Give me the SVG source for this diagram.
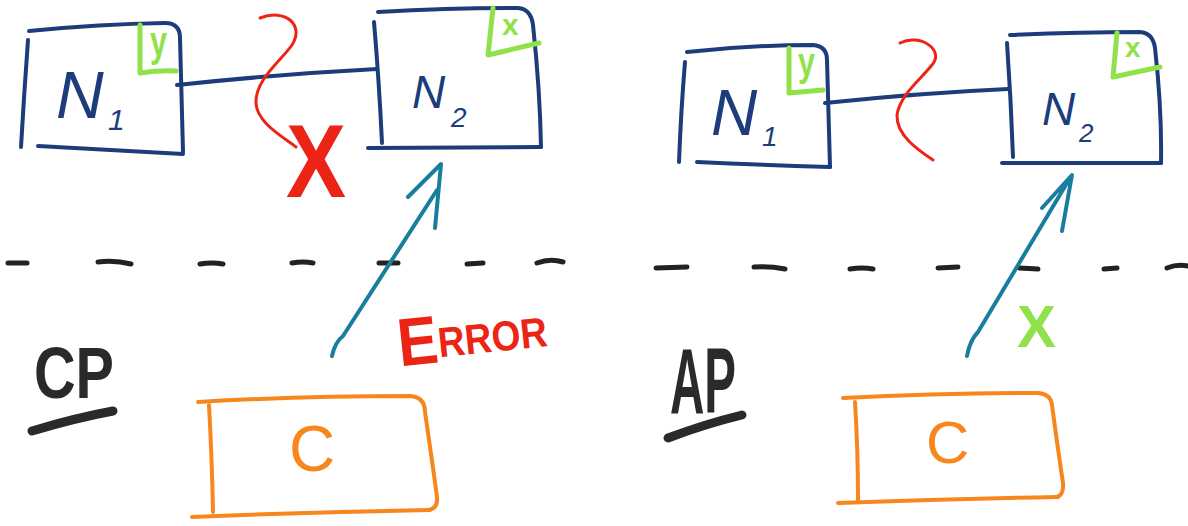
<svg xmlns="http://www.w3.org/2000/svg" width="1188" height="526" viewBox="0 0 1188 526">
<style>
.nv{fill:none;stroke:#1c3c7c;stroke-width:4;stroke-linecap:round;stroke-linejoin:round}
.gr{fill:none;stroke:#8fe24a;stroke-width:5;stroke-linecap:round;stroke-linejoin:round}
.rd{fill:none;stroke:#ec2416;stroke-width:3;stroke-linecap:round}
.or{fill:none;stroke:#f7861c;stroke-width:4;stroke-linecap:round;stroke-linejoin:round}
.tl{fill:none;stroke:#197e9e;stroke-width:4;stroke-linecap:round;stroke-linejoin:round}
.dash{fill:none;stroke:#222;stroke-width:5;stroke-linecap:round}
.ul{fill:none;stroke:#2a2a2a;stroke-width:9;stroke-linecap:round}
.nt{font-family:"Liberation Sans",Arial,sans-serif;font-style:italic;fill:#1c3c7c}
.gt{font-family:"Liberation Sans",Arial,sans-serif;font-weight:bold;fill:#8fe24a}
.ot{font-family:"Liberation Sans",Arial,sans-serif;fill:#f7861c}
.bt{font-family:"Liberation Sans",Arial,sans-serif;font-weight:bold;fill:#2a2a2a}
.rt{font-family:"Liberation Sans",Arial,sans-serif;font-weight:bold;fill:#ec2416}
</style>

<g id="separators">
<path class="dash" d="M8,263 L27,263 M98,262 Q115,260 131,264 M200,264 Q212,262 223,264 M292,263 Q303,261 313,263 M379,263 L398,263 M467,264 L483,263 M537,263 Q550,258 563,262"/>
<path class="dash" d="M656,268 L687,267 M754,267 Q770,266 785,269 M850,269 Q862,267 873,269 M938,268 L958,267 M1019,268 L1038,269 M1104,269 L1117,268 M1167,268 Q1177,264 1188,266"/>
</g>

<g id="connectors">
<path class="nv" d="M177,85 Q280,74 377,69"/>
<path class="nv" d="M825,103 Q920,93 1008,89"/>
<path class="rd" d="M260,18 C285,8 305,25 292,45 C280,62 255,80 256,103 C257,122 280,135 296,147"/>
<path class="rd" d="M900,43 C920,33 945,50 932,65 C920,80 900,95 897,115 C896,135 918,150 933,160"/>
<path class="tl" d="M332,356 Q335,342 343,336 L437,190 M408,197 L441,164 L435,228"/>
<path class="tl" d="M967,356 Q970,340 978,332 L1067,183 M1042,208 L1072,175 L1062,231"/>
</g>

<g id="cp-n1">
<path class="nv" d="M28,40 Q24,95 21,147"/>
<path class="nv" d="M29,31 Q100,24 165,23 Q180,23 180,38 L183,152"/>
<path class="nv" d="M38,146 Q110,150 183,154"/>
<path class="gr" d="M140,25 L140,73 Q160,70 176,71"/>
<text class="gt" x="150" y="56" font-size="42" font-weight="normal" textLength="17" lengthAdjust="spacingAndGlyphs">y</text>
<text class="nt" x="56" y="118" font-size="66">N<tspan x="108" y="130" font-size="30">1</tspan></text>
</g>

<g id="cp-n2">
<path class="nv" d="M374,22 Q379,80 382,143"/>
<path class="nv" d="M378,12 Q450,8 518,8 Q531,9 533,25 Q540,90 541,147"/>
<path class="nv" d="M368,148 L541,147"/>
<path class="gr" d="M493,8 L488,55 L539,43"/>
<text class="gt" x="502" y="35" font-size="30">x</text>
<text class="nt" x="412" y="108" font-size="46">N<tspan x="451" y="127" font-size="28">2</tspan></text>
</g>

<g id="cp-c">
<path class="or" d="M198,402 Q300,396 410,396 Q425,397 425,412 Q432,460 437,497 Q438,509 428,510"/>
<path class="or" d="M192,517 Q310,512 430,510"/>
<path class="or" d="M209,405 Q212,460 213,512"/>
<text class="ot" x="289" y="471" font-size="64">C</text>
</g>

<g id="cp-labels">
<text class="bt" x="34" y="398" font-size="72" textLength="80" lengthAdjust="spacingAndGlyphs">CP</text>
<path class="ul" d="M32,431 Q75,418 113,411"/>
<text class="rt" x="286" y="197" font-size="104" textLength="60" lengthAdjust="spacingAndGlyphs">X</text>
<text class="rt" x="397" y="359" font-size="68" textLength="150" lengthAdjust="spacingAndGlyphs" transform="rotate(-6 470 335)">E<tspan dy="-5" font-size="42">RROR</tspan></text>
</g>

<g id="ap-n1">
<path class="nv" d="M685,62 Q681,110 679,162"/>
<path class="nv" d="M687,52 Q750,45 813,45 Q827,46 827,60 L830,167"/>
<path class="nv" d="M697,162 Q760,165 830,167"/>
<path class="gr" d="M789,48 L789,93 L823,90"/>
<text class="gt" x="798" y="76" font-size="40" font-weight="normal" textLength="17" lengthAdjust="spacingAndGlyphs">y</text>
<text class="nt" x="711" y="135" font-size="64">N<tspan x="762" y="146" font-size="28">1</tspan></text>
</g>

<g id="ap-n2">
<path class="nv" d="M1007,43 Q1011,100 1013,157"/>
<path class="nv" d="M1010,35 Q1080,32 1140,32 Q1153,33 1155,48 Q1162,110 1161,163"/>
<path class="nv" d="M1002,163 L1161,163"/>
<path class="gr" d="M1117,33 L1113,77 L1160,67"/>
<text class="gt" x="1125" y="57" font-size="28">x</text>
<text class="nt" x="1042" y="125" font-size="46">N<tspan x="1079" y="142" font-size="26">2</tspan></text>
</g>

<g id="ap-c">
<path class="or" d="M843,398 Q940,393 1038,393 Q1051,394 1052,405 Q1058,450 1063,483 Q1064,496 1056,497"/>
<path class="or" d="M838,503 Q950,499 1058,497"/>
<path class="or" d="M855,402 Q858,450 858,500"/>
<text class="ot" x="926" y="463" font-size="60">C</text>
</g>

<g id="ap-labels">
<text class="bt" x="670" y="413" font-size="92" textLength="66" lengthAdjust="spacingAndGlyphs">AP</text>
<path class="ul" d="M668,438 Q705,424 742,415"/>
<text class="gt" x="1017" y="347" font-size="60" font-weight="normal" textLength="39" lengthAdjust="spacingAndGlyphs">X</text>
</g>
</svg>
